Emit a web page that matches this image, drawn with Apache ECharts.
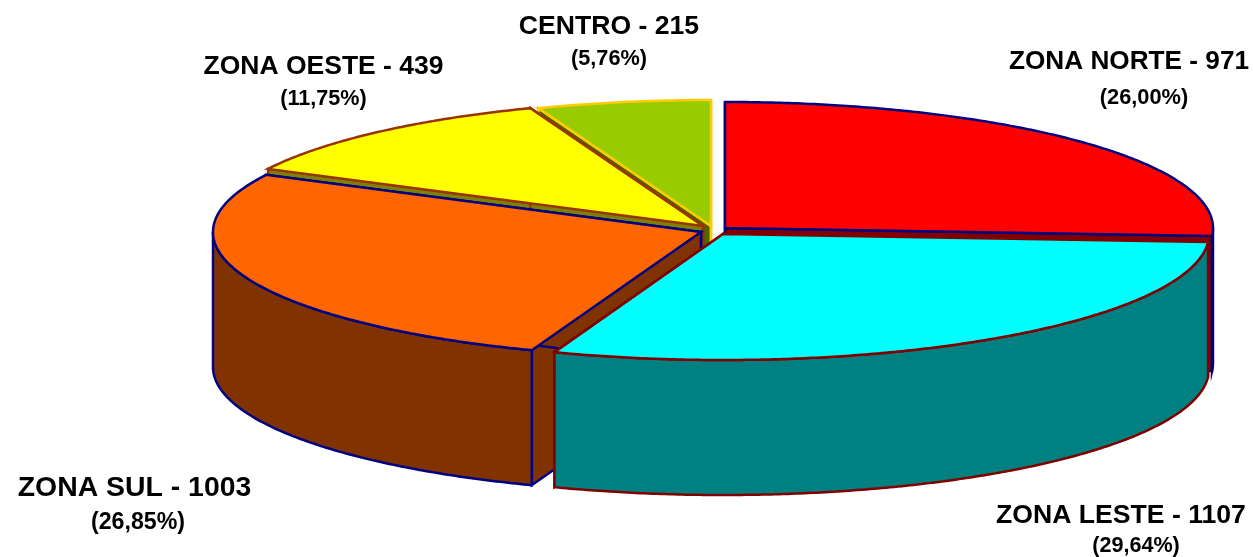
<!DOCTYPE html>
<html>
<head>
<meta charset="utf-8">
<style>html,body{margin:0;padding:0;background:#fff}#c{width:1253px;height:557px}</style>
<script src="https://cdn.jsdelivr.net/npm/echarts@6/dist/echarts.min.js"></script>
</head>
<body>
<div id="c"></div>
<script>
// Data (clockwise from 12 o'clock)
const categories = ['ZONA NORTE', 'ZONA LESTE', 'ZONA SUL', 'ZONA OESTE', 'CENTRO'];
const values = [971, 1107, 1003, 439, 215];
const percentLabels = ['(26,00%)', '(29,64%)', '(26,85%)', '(11,75%)', '(5,76%)'];

// Styles
const topColors = ['#FF0000', '#00FFFF', '#FF6600', '#FFFF00', '#99CC00'];
const sideColors = ['#800000', '#008080', '#803300', '#808000', '#4D6600'];
const strokeColors = ['#000080', '#800000', '#000080', '#993300', '#FFCC00'];

// Layout: pie projection and exploded apex of each slice; label anchors
const RY = 126, DEPTH = 135;
const radiusX = [488, 486, 488, 488, 488];
const apexX = [725, 723, 701, 703, 711];
const apexY = [228, 234, 232, 226, 226];
const nameX = [1129, 1121, 134.5, 323.5, 609];
const nameY = [62, 516, 488.5, 67, 27];
const pctX = [1144, 1136, 138, 323.5, 609];
const pctY = [98, 546, 523, 99, 59];
const nameSize = [26.2, 26.6, 28.4, 26.5, 26.6];
const pctSize = [21.8, 21.6, 23.2, 21.6, 21.7];
const paintOrder = [0, 4, 3, 2, 1];

const total = values.reduce((a, b) => a + b, 0);
const startShare = values.map((_, i) => values.slice(0, i).reduce((a, b) => a + b, 0) / total);

function rim(i, deg, dz) {
  const r = deg * Math.PI / 180;
  return [apexX[i] + radiusX[i] * Math.sin(r), apexY[i] - RY * Math.cos(r) + dz];
}
function arc(i, a0, a1, dz) {
  const pts = [], n = Math.max(2, Math.ceil((a1 - a0) / 0.5));
  for (let k = 0; k <= n; k++) pts.push(rim(i, a0 + (a1 - a0) * k / n, dz));
  return pts;
}
function poly(points, fill, stroke) {
  return { type: 'polygon', shape: { points }, style: { fill, stroke, lineWidth: 2.5 } };
}
function txt(x, y, text, size) {
  return {
    type: 'text',
    style: { x, y, text, fill: '#000', align: 'center', verticalAlign: 'middle',
             font: 'bold ' + size + 'px "Liberation Sans", Arial, sans-serif' }
  };
}

function renderItem(params, api) {
  const i = api.value(1);
  const a0 = startShare[i] * 360;
  const a1 = a0 + api.value(0) / total * 360;
  const side = sideColors[i], top = topColors[i], st = strokeColors[i];
  const c = [apexX[i], apexY[i]], cb = [apexX[i], apexY[i] + DEPTH];
  const children = [];
  // radial cut faces
  [a0, a1].forEach(a => {
    children.push(poly([c, rim(i, a, 0), rim(i, a, DEPTH), cb], side, st));
  });
  // outer wall (front half only)
  const w0 = Math.max(a0, 90), w1 = Math.min(a1, 270);
  if (w1 > w0) {
    children.push(poly(arc(i, w0, w1, 0).concat(arc(i, w0, w1, DEPTH).reverse()), side, st));
  }
  // top face
  children.push(poly([c].concat(arc(i, a0, a1, 0)), top, st));
  // labels
  children.push(txt(nameX[i], nameY[i], categories[i] + ' - ' + values[i], nameSize[i]));
  children.push(txt(pctX[i], pctY[i], percentLabels[i], pctSize[i]));
  return { type: 'group', children };
}

const chart = echarts.init(document.getElementById('c'), null, { renderer: 'canvas' });
chart.setOption({
  animation: false,
  backgroundColor: '#fff',
  series: [{
    type: 'custom',
    coordinateSystem: 'none',
    silent: true,
    renderItem,
    data: paintOrder.map(i => [values[i], i])
  }]
});
</script>
</body>
</html>
